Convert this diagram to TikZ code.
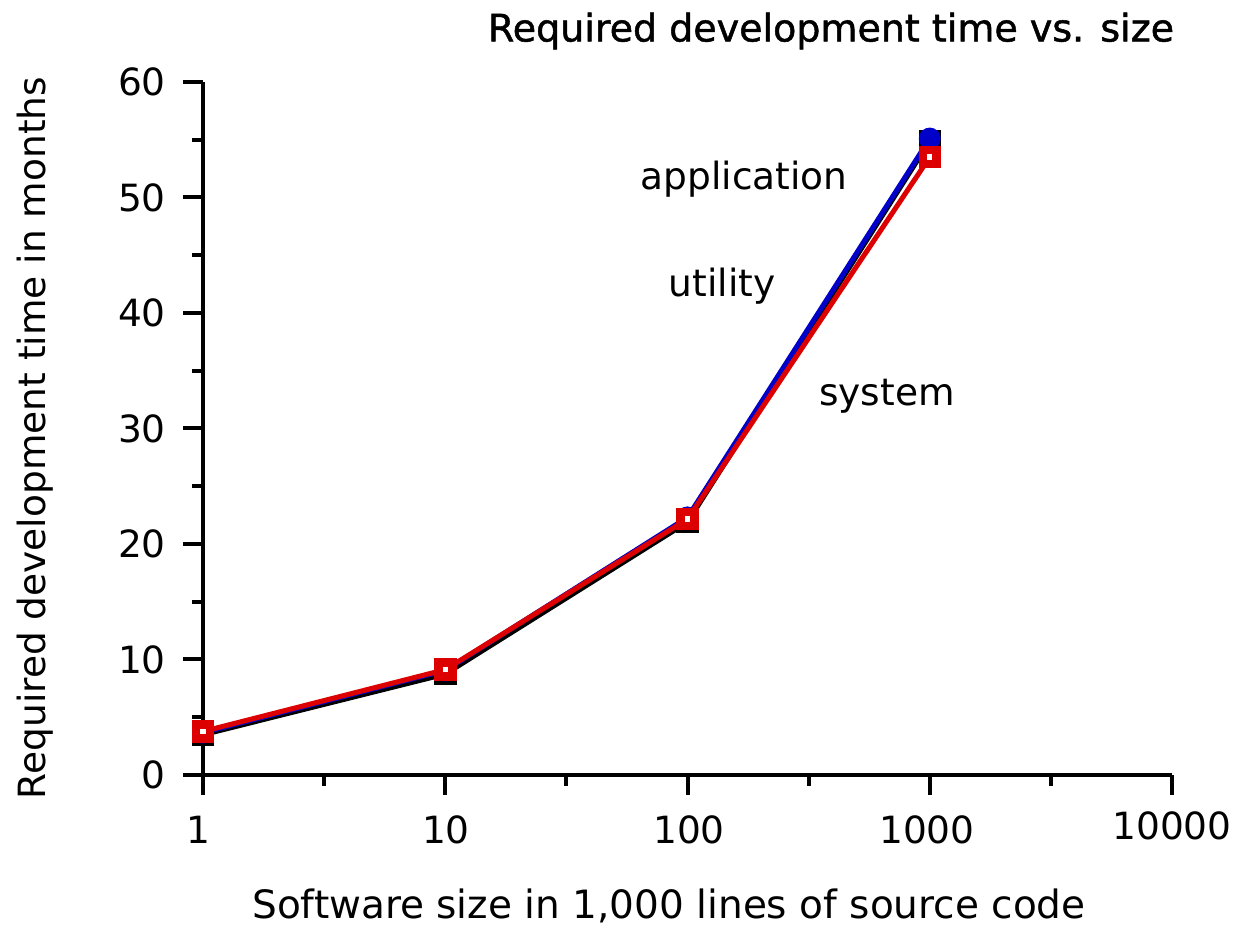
\documentclass[tikz,border=0pt]{standalone}
\usepackage{fontspec}
\setmainfont{DejaVu Sans}
\newfontfamily\headfont[FakeBold=1.3]{DejaVu Sans}
\tikzset{
  axisline/.style={line width=4pt},
  majtick/.style={line width=4pt},
  mintick/.style={line width=4pt},
  lab/.style={font=\fontsize{37.5}{42}\selectfont, inner sep=0pt},
  axtitle/.style={font=\fontsize{39}{44}\selectfont, inner sep=0pt},
  ytitlestyle/.style={font=\fontsize{37.5}{42}\selectfont, inner sep=0pt},
  head/.style={font=\headfont\fontsize{38}{43}\selectfont, inner sep=0pt},
  seriesline/.style={line width=5pt, line join=miter},
  sqmark/.style={rectangle, draw=none, fill=#1, minimum size=22.5pt, inner sep=0pt},
  hollowsq/.style={sqmark=#1, path picture={
      \fill[white] ([xshift=-2.7pt,yshift=-2.7pt]path picture bounding box.center)
        rectangle ([xshift=2.7pt,yshift=2.7pt]path picture bounding box.center);}},
  dotmark/.style={circle, draw=none, fill=#1, minimum size=22pt, inner sep=0pt},
}
\definecolor{serblue}{RGB}{0,0,200}
\definecolor{serred}{RGB}{220,0,0}
\begin{document}
\begin{tikzpicture}[x=1pt,y=1pt]
\useasboundingbox (0,0) rectangle (1244,926);

% axes: x from 1 to 10000 (log), y from 0 to 60 months
\draw[axisline] (183,151) -- (1172,151);
\draw[axisline] (203,131) -- (203,844);

% x ticks, one decade = 242.25pt
\foreach \d in {0,1,2,3,4}
  \draw[majtick] ({203+242.25*\d},151) -- ({203+242.25*\d},131);
\foreach \d in {0.5,1.5,2.5,3.5}
  \draw[mintick] ({203+242.25*\d},151) -- ({203+242.25*\d},140);

% y ticks, 10 months = 115.5pt
\foreach \v in {10,20,...,60}
  \draw[majtick] (203,{151+11.55*\v}) -- (183,{151+11.55*\v});
\foreach \v in {5,15,...,55}
  \draw[mintick] (203,{151+11.55*\v}) -- (192,{151+11.55*\v});

% tick labels
\foreach \v in {0,10,...,60}
  \node[lab, anchor=east] (ylab\v) at (166,{151+11.55*\v}) {\v};
\node[lab] (xl1) at (198,96) {1};
\node[lab] (xl10) at (446,96) {10};
\node[lab] (xl100) at (689,96) {100};
\node[lab] (xl1000) at (927,96) {1000};
\node[lab] (xl10000) at (1172,100) {10000};

% axis titles and heading
\node[axtitle] (xtitle) at (669,20) {Software size in 1,000 lines of source code};
\node[ytitlestyle, rotate=90] (ytitle) at (35,488) {Required development time in months};
\node[head] (title) at (831,895) {Required development time vs. size};

% series labels
\node[lab] (lapp) at (744,747) {application};
\node[lab] (lutil) at (722,640) {utility};
\node[lab] (lsys) at (887,530) {system};

% data: development time over size (log10 of KLOC)
\begin{scope}[shift={(203,151)}, x=242.25pt, y=11.55pt]
  \coordinate (k1) at (0,3.49);
  \coordinate (k2) at (1,8.74);
  \coordinate (k3) at (2,21.9);
  \coordinate (k4) at (3,54.9);
  \coordinate (b1) at (0,3.67);
  \coordinate (b2) at (1,9.05);
  \coordinate (b3) at (2,22.3);
  \coordinate (b4) at (3,55.1);
  \coordinate (r1) at (0,3.77);
  \coordinate (r2) at (1,9.12);
  \coordinate (r3) at (2,22.15);
  \coordinate (r4) at (3,53.5);
\end{scope}

% black series
\draw[seriesline, black] (k1) -- (k2) -- (k3) -- (k4);
\foreach \i in {1,2,3,4} \node[sqmark=black] (km\i) at (k\i) {};
% blue series
\draw[seriesline, serblue] (b1) -- (b2) -- (b3) -- (b4);
\foreach \i in {1,2,3,4} \node[dotmark=serblue] (bm\i) at (b\i) {};
% red series
\draw[seriesline, serred] (r1) -- (r2) -- (r3) -- (r4);
\foreach \i in {1,2,3,4} \node[hollowsq=serred] (rm\i) at (r\i) {};
\end{tikzpicture}
\end{document}
